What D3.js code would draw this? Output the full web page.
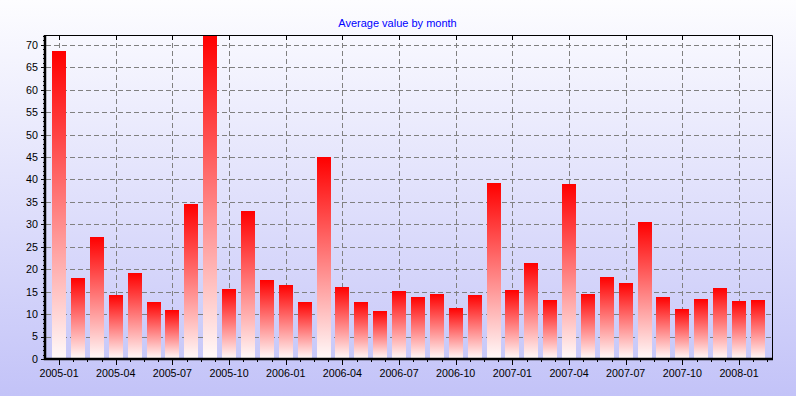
<!DOCTYPE html>
<html>
<head>
<meta charset="utf-8">
<script src="https://cdn.jsdelivr.net/npm/d3@7"></script>
<style>
  html, body { margin: 0; padding: 0; background: #fff; }
  svg { display: block; }
  text { font-family: "Liberation Sans", Arial, sans-serif; }
</style>
</head>
<body>
<svg id="chart" width="796" height="396"></svg>
<script>
const months = [
  "2005-01","2005-02","2005-03","2005-04","2005-05","2005-06","2005-07","2005-08","2005-09","2005-10","2005-11","2005-12",
  "2006-01","2006-02","2006-03","2006-04","2006-05","2006-06","2006-07","2006-08","2006-09","2006-10","2006-11","2006-12",
  "2007-01","2007-02","2007-03","2007-04","2007-05","2007-06","2007-07","2007-08","2007-09","2007-10","2007-11","2007-12",
  "2008-01","2008-02"
];
const values = [
  68.6, 18.0, 27.1, 14.2, 19.1, 12.7, 10.9, 34.6, 72.2, 15.5, 32.9, 17.5,
  16.4, 12.7, 45.1, 16.0, 12.7, 10.7, 15.1, 13.8, 14.4, 11.3, 14.2, 39.3,
  15.3, 21.3, 13.1, 39.1, 14.4, 18.2, 16.9, 30.6, 13.8, 11.1, 13.3, 15.8,
  12.9, 13.1
];
const xTickLabels = ["2005-01","2005-04","2005-07","2005-10","2006-01","2006-04","2006-07","2006-10","2007-01","2007-04","2007-07","2007-10","2008-01"];
const yTicks = [0,5,10,15,20,25,30,35,40,45,50,55,60,65,70];
const yMax = 72.2;
const chartTitle = "Average value by month";

const W = 796, H = 396;
const pL = 45, pR = 772, pT = 35, pB = 359;

const svg = d3.select("#chart");
const defs = svg.append("defs");

const bg = defs.append("linearGradient").attr("id","bg").attr("x1",0).attr("y1",0).attr("x2",0).attr("y2",1);
bg.append("stop").attr("offset","0%").attr("stop-color","#fdfdff");
bg.append("stop").attr("offset","100%").attr("stop-color","#c3c3f8");

const barGrad = defs.append("linearGradient").attr("id","bar").attr("x1",0).attr("y1",0).attr("x2",0).attr("y2",1);
barGrad.append("stop").attr("offset","0%").attr("stop-color","#ff0000");
barGrad.append("stop").attr("offset","100%").attr("stop-color","#fffafa");

svg.append("rect").attr("width",W).attr("height",H).attr("fill","url(#bg)");

const x = d3.scaleBand().domain(months).range([pL, pR]).paddingInner(0.26).paddingOuter(0.375);
const y = d3.scaleLinear().domain([0, yMax]).range([pB, pT]);

const step = x.step();
const cx = m => x(m) + x.bandwidth() / 2;

// grid
const grid = svg.append("g").attr("stroke","#808080").attr("stroke-width",1).attr("stroke-dasharray","5,3").attr("fill","none");
grid.selectAll("line.h").data(yTicks.filter(v => v > 0)).join("line")
  .attr("x1", pL + 1).attr("x2", pR)
  .attr("y1", d => Math.round(y(d)) + 0.5).attr("y2", d => Math.round(y(d)) + 0.5);
grid.selectAll("line.v").data(xTickLabels).join("line")
  .attr("x1", d => Math.round(cx(d)) + 0.5).attr("x2", d => Math.round(cx(d)) + 0.5)
  .attr("y1", pT).attr("y2", pB);

// bars
svg.append("g").selectAll("rect").data(months).join("rect")
  .attr("x", d => Math.round(x(d)))
  .attr("width", Math.round(x.bandwidth()))
  .attr("y", (d, i) => Math.round(Math.max(y(values[i]), pT)))
  .attr("height", (d, i) => pB - Math.round(Math.max(y(values[i]), pT)))
  .attr("fill", "url(#bar)");

// frame (top & right)
svg.append("path").attr("d", `M${pL},${pT + 0.5}H${pR + 0.5}V${pB}`)
  .attr("stroke","#000").attr("stroke-width",1).attr("fill","none");

// x axis ticks
const axisG = svg.append("g").attr("stroke","#000").attr("stroke-width",1);
const minorX = [];
xTickLabels.forEach(m => {
  for (let k = 1; k < 4; k++) {
    const px = cx(m) + k * step * 3 / 4;
    if (px < pR) minorX.push(px);
  }
});
axisG.selectAll("line.xmaj").data(xTickLabels).join("line")
  .attr("x1", d => Math.round(cx(d)) + 0.5).attr("x2", d => Math.round(cx(d)) + 0.5)
  .attr("y1", pB).attr("y2", pB + 6);
axisG.selectAll("line.xmin").data(minorX).join("line")
  .attr("x1", d => Math.round(d) + 0.5).attr("x2", d => Math.round(d) + 0.5)
  .attr("y1", pB).attr("y2", pB + 3);
// top inward ticks
axisG.selectAll("line.xtop").data(xTickLabels).join("line")
  .attr("x1", d => Math.round(cx(d)) + 0.5).attr("x2", d => Math.round(cx(d)) + 0.5)
  .attr("y1", pT).attr("y2", pT + 5);

// y ticks
const minorY = d3.range(0, Math.floor(yMax) + 1).filter(v => v % 5 !== 0);
axisG.selectAll("line.ymaj").data(yTicks).join("line")
  .attr("x1", pL - 4).attr("x2", pL)
  .attr("y1", d => Math.round(y(d)) + 0.5).attr("y2", d => Math.round(y(d)) + 0.5);
axisG.selectAll("line.ymin").data(minorY).join("line")
  .attr("x1", pL - 2).attr("x2", pL)
  .attr("y1", d => Math.round(y(d)) + 0.5).attr("y2", d => Math.round(y(d)) + 0.5);

// axis lines (thick)
svg.append("path").attr("d", `M${pL},${pT}V${pB}H${pR + 1}`)
  .attr("stroke","#000").attr("stroke-width",2.5).attr("fill","none");

// labels
svg.append("g").selectAll("text").data(xTickLabels).join("text")
  .attr("x", d => cx(d)).attr("y", 376.5)
  .attr("text-anchor","middle").attr("font-size","10.7px").attr("fill","#000")
  .text(d => d);
svg.append("g").selectAll("text").data(yTicks).join("text")
  .attr("x", 38).attr("y", d => y(d) + 3.9)
  .attr("text-anchor","end").attr("font-size","10.7px").attr("fill","#000")
  .text(d => d);

svg.append("text").attr("x", 397.5).attr("y", 26.5).attr("text-anchor","middle")
  .attr("font-size","11px").attr("fill","#0000ff").text(chartTitle);
</script>
</body>
</html>
